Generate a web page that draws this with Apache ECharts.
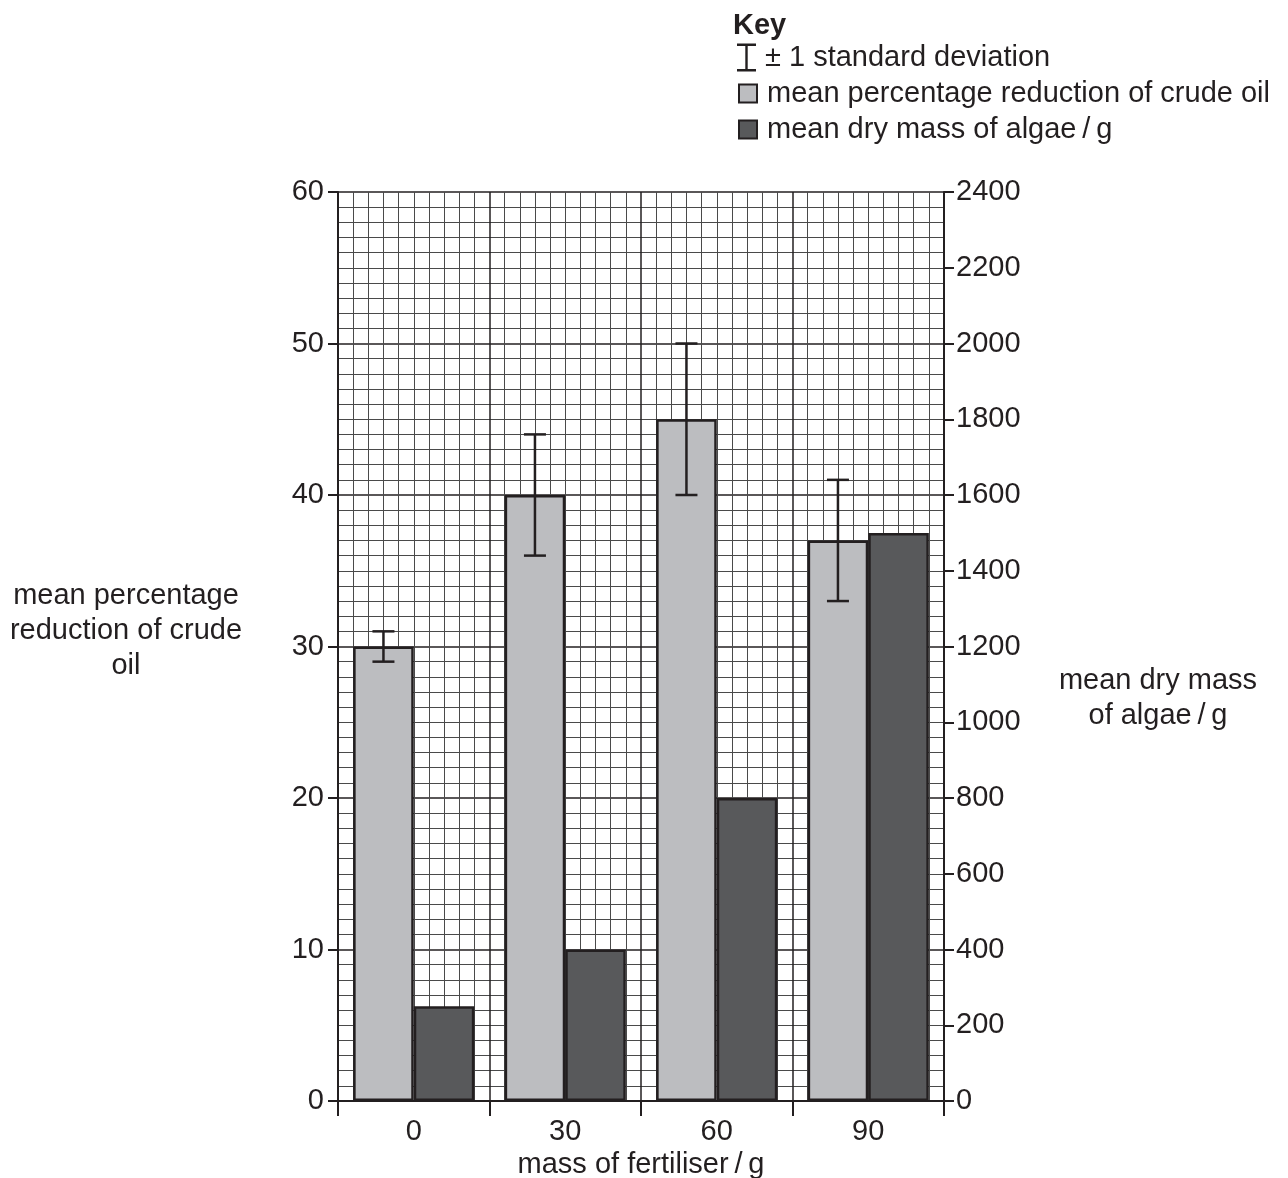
<!DOCTYPE html>
<html><head><meta charset="utf-8">
<script src="https://cdn.jsdelivr.net/npm/echarts@6/dist/echarts.min.js"></script>
<style>html,body{margin:0;padding:0;background:#fff}#c{width:1288px;height:1178px}</style>
</head><body><div id="c"></div>
<script>
const categories = ['0', '30', '60', '90'];
const crudeOilReduction = [30, 40, 45, 37];
const crudeOilSD = [1, 4, 5, 4];
const algaeDryMass = [250, 400, 800, 1500];
const leftTicks = [0, 10, 20, 30, 40, 50, 60];
const rightTicks = [0, 200, 400, 600, 800, 1000, 1200, 1400, 1600, 1800, 2000, 2200, 2400];

const FONT = 'Liberation Sans, Arial, sans-serif';
const INK = '#231f20';
const FS = 29;
const errData = crudeOilReduction.map((v, i) => [i, v - crudeOilSD[i], v + crudeOilSD[i]]);

const chart = echarts.init(document.getElementById('c'), null, {renderer: 'canvas'});
chart.setOption({
  animation: false,
  backgroundColor: '#fff',
  textStyle: {fontFamily: FONT, color: INK},
  grid: {left: 338, right: 344, top: 192, bottom: 77, containLabel: false, outerBoundsMode: 'none'},
  title: {text: 'Key', left: 728, top: 6, textStyle: {fontFamily: FONT, fontSize: FS, fontWeight: 'bold', color: INK}},
  legend: [
    {
      orient: 'vertical', left: 732, top: 38, itemWidth: 19, itemHeight: 28,
      textStyle: {fontFamily: FONT, fontSize: FS, color: INK, padding: [0, 0, 0, 4]},
      data: [
        {name: '± 1 standard deviation', icon: 'path://M0,0H19V2.4H10.7V25.6H19V28H0V25.6H8.3V2.4H0Z', itemStyle: {color: INK, borderWidth: 0}}
      ]
    },
    {
      orient: 'vertical', left: 733, top: 74, itemWidth: 18, itemHeight: 18, itemGap: 7,
      textStyle: {fontFamily: FONT, fontSize: FS, color: INK, padding: [0, 0, 0, 5]},
      data: [
        {name: 'mean percentage reduction of crude oil', icon: 'rect'},
        {name: 'mean dry mass of algae\u2009/\u2009g', icon: 'rect'}
      ]
    }
  ],
  xAxis: [
    {
      type: 'category', data: categories, position: 'bottom',
      axisLine: {lineStyle: {color: INK, width: 2}},
      axisTick: {show: true, alignWithLabel: false, interval: 0, length: 15, lineStyle: {color: INK, width: 2}},
      axisLabel: {fontFamily: FONT, fontSize: FS, color: INK, margin: 16, formatter: v => String(v)},
      splitLine: {show: false},
      name: 'mass of fertiliser\u2009/\u2009g', nameLocation: 'middle', nameGap: 48,
      nameTextStyle: {fontFamily: FONT, fontSize: FS, color: INK}
    },
    {
      type: 'value', position: 'top', min: 0, max: 40, interval: 10,
      axisLine: {show: false}, axisTick: {show: false}, axisLabel: {show: false},
      splitLine: {show: true, lineStyle: {color: INK, width: 1.5}},
      minorTick: {show: false, splitNumber: 10},
      minorSplitLine: {show: true, lineStyle: {color: '#4a4a4a', width: 1}}
    }
  ],
  yAxis: [
    {
      type: 'value', min: 0, max: 60, interval: 10, position: 'left',
      axisLine: {show: true, lineStyle: {color: INK, width: 2}},
      axisTick: {show: true, length: 10, lineStyle: {color: INK, width: 2}},
      axisLabel: {fontFamily: FONT, fontSize: FS, color: INK, margin: 14, formatter: v => String(v)},
      splitLine: {show: true, lineStyle: {color: INK, width: 1.5}},
      minorTick: {show: false, splitNumber: 10},
      minorSplitLine: {show: true, lineStyle: {color: '#4a4a4a', width: 1}}
    },
    {
      type: 'value', min: 0, max: 2400, interval: 200, position: 'right',
      axisLine: {show: true, lineStyle: {color: INK, width: 2}},
      axisTick: {show: true, length: 10, lineStyle: {color: INK, width: 2}},
      axisLabel: {fontFamily: FONT, fontSize: FS, color: INK, margin: 12, formatter: v => String(v)},
      splitLine: {show: false}
    }
  ],
  graphic: [
    {type: 'text', x: 126, y: 631, style: {text: 'mean percentage\nreduction of crude\noil', x: 0, y: 0, align: 'center', verticalAlign: 'middle', font: FS + 'px ' + FONT, lineHeight: 35, fill: INK}},
    {type: 'text', x: 1158, y: 698, style: {text: 'mean dry mass\nof algae\u2009/\u2009g', x: 0, y: 0, align: 'center', verticalAlign: 'middle', font: FS + 'px ' + FONT, lineHeight: 35, fill: INK}}
  ],
  series: [
    {
      name: 'mean percentage reduction of crude oil', type: 'bar', xAxisIndex: 0, yAxisIndex: 0,
      data: crudeOilReduction, barGap: '0%', barCategoryGap: '20%',
      itemStyle: {color: '#bcbdc0', borderColor: INK, borderWidth: 2.5}, z: 3
    },
    {
      name: 'mean dry mass of algae\u2009/\u2009g', type: 'bar', xAxisIndex: 0, yAxisIndex: 1,
      data: algaeDryMass, barGap: '0%', barCategoryGap: '20%',
      itemStyle: {color: '#58595b', borderColor: INK, borderWidth: 2.5}, z: 3
    },
    {
      name: '± 1 standard deviation', type: 'custom', xAxisIndex: 0, yAxisIndex: 0, z: 5,
      data: errData, encode: {x: 0, y: [1, 2]},
      renderItem: function (params, api) {
        const i = api.value(0);
        const lo = api.coord([i, api.value(1)]);
        const hi = api.coord([i, api.value(2)]);
        const bw = api.size([1, 0])[0];
        const x = lo[0] - bw * 0.2;
        const cap = 11;
        const st = {stroke: INK, lineWidth: 2.5};
        return {type: 'group', children: [
          {type: 'line', shape: {x1: x, y1: lo[1], x2: x, y2: hi[1]}, style: st},
          {type: 'line', shape: {x1: x - cap, y1: lo[1], x2: x + cap, y2: lo[1]}, style: st},
          {type: 'line', shape: {x1: x - cap, y1: hi[1], x2: x + cap, y2: hi[1]}, style: st}
        ]};
      }
    }
  ]
});
</script></body></html>
